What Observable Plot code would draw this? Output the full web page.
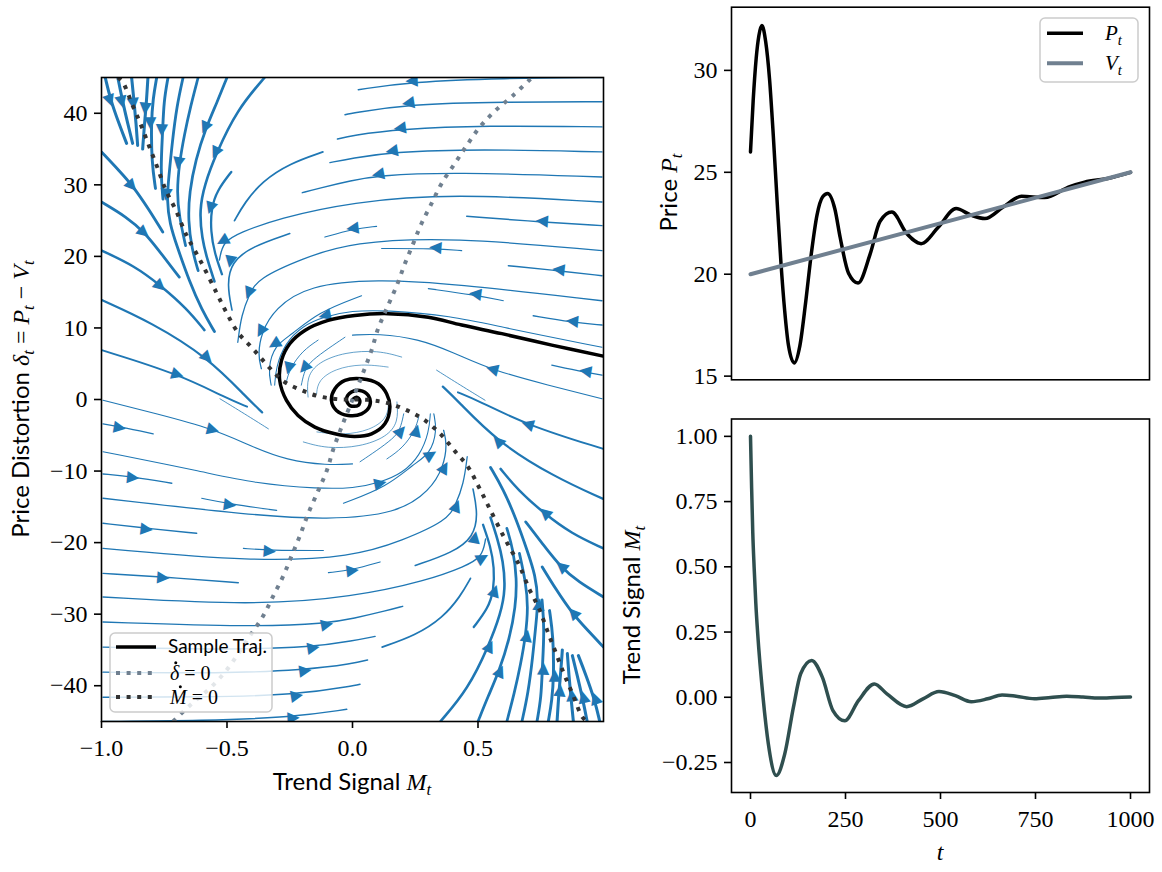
<!DOCTYPE html>
<html>
<head>
<meta charset="utf-8">
<script src="https://cdn.jsdelivr.net/npm/d3@7"></script>
<script src="https://cdn.jsdelivr.net/npm/@observablehq/plot@0.6"></script>
<style>
  body { margin: 0; background: #fff; }
  #wrap { position: relative; width: 1162px; height: 872px; overflow: hidden; background: #fff; }
  #wrap > svg, #wrap > figure { position: absolute; margin: 0; overflow: visible; }
  svg [aria-label$="tick"] path, svg [aria-label$="axis"] .tick line { stroke-width: 1.6px; }
</style>
</head>
<body>
<div id="wrap"></div>
<script>
// ---------------- DATA ----------------
// Right-top panel: price P_t and value V_t over time t
const priceT = [0,7,15,22,30,40,50,60,70,80,90,100,115,130,145,160,175,190,203,222,236,258,283,315,341,372,411,449,494,541,580,617,665,713,774,840,879,940,1000];
const priceP = [26.0,28.5,30.6,31.7,32.2,31.4,29.6,26.8,23.6,20.6,18.2,16.5,15.65,16.5,18.6,21.0,22.9,23.8,23.96,23.2,21.8,20.05,19.57,21.0,22.6,23.05,22.0,21.5,22.3,23.22,22.9,22.73,23.3,23.82,23.76,24.3,24.52,24.7,25.0];
const valueT = [0, 1000];
const valueV = [20, 25];

// Right-bottom panel: trend signal M_t over time t
const trendT = [0,3,6,9.5,14,19,33,47,68,90,113,132,161,189,217,248,284,326,359,411,454,496,539,581,624,662,699,747,790,832,875,917,960,1000];
const trendM = [1.0,0.80,0.63,0.5,0.36,0.243,0.0,-0.179,-0.30,-0.218,-0.038,0.09,0.141,0.077,-0.051,-0.09,-0.013,0.051,0.013,-0.036,-0.006,0.022,0.006,-0.017,-0.006,0.009,0.004,-0.006,-0.001,0.004,0.001,-0.003,-0.001,0.001];

// Tick values
const phaseTicksX = [-1, -0.5, 0, 0.5];
const phaseTicksY = [-40, -30, -20, -10, 0, 10, 20, 30, 40];
const priceTicksY = [15, 20, 25, 30];
const trendTicksY = [-0.25, 0, 0.25, 0.5, 0.75, 1];
const timeTicks = [0, 250, 500, 750, 1000];

// Left panel: sample trajectory (M, delta)
const trajectory = [[0.994,6.1],[0.794,7.6],[0.595,9.2],[0.435,10.4],[0.302,11.5],[0.142,12.0],[0.009,11.75],[-0.097,11.05],[-0.19,9.65],[-0.25,7.79],[-0.283,5.46],[-0.29,2.67],[-0.263,-0.13],[-0.217,-2.23],[-0.15,-3.86],[-0.07,-4.79],[0.009,-5.16],[0.076,-4.79],[0.129,-3.39],[0.149,-1.06],[0.136,0.8],[0.103,2.2],[0.036,2.9],[-0.03,2.67],[-0.07,1.5],[-0.084,-0.13],[-0.064,-1.53],[-0.017,-2.23],[0.036,-2.0],[0.069,-0.83],[0.063,0.57],[0.029,1.27],[-0.004,1.04],[-0.024,0.1],[-0.011,-0.83],[0.023,-0.83],[0.029,-0.13],[0.016,0.33],[0.0,0.0]];

// Nullclines
const mdotNull = [[-0.935,45],[-0.916,44.4],[-0.876,41.1],[-0.842,38.3],[-0.809,35.3],[-0.776,32.3],[-0.743,29.2],[-0.703,26.4],[-0.67,23.6],[-0.65,22.2],[-0.603,19.2],[-0.543,15.0],[-0.503,12.2],[-0.457,9.4],[-0.397,7.1],[-0.34,4.8],[-0.277,2.6],[-0.21,1.4],[-0.14,0.5],[-0.06,0.05],[0.06,-0.05],[0.14,-0.5],[0.21,-1.4],[0.28,-2.7],[0.35,-4.8],[0.405,-7.1],[0.46,-9.4],[0.503,-12.2],[0.543,-15.0],[0.603,-19.2],[0.65,-22.2],[0.67,-23.6],[0.703,-26.4],[0.743,-29.2],[0.776,-32.3],[0.809,-35.3],[0.842,-38.3],[0.876,-41.1],[0.916,-44.4],[0.935,-45]];
const ddotNull = [[-0.715,-45],[-0.64,-42.5],[-0.57,-40.4],[-0.508,-38.1],[-0.455,-35.5],[-0.408,-33.0],[-0.355,-30.2],[-0.315,-27.4],[-0.275,-24.6],[-0.242,-21.8],[-0.209,-19.0],[-0.176,-15.9],[-0.136,-12.7],[-0.102,-9.9],[-0.076,-6.9],[-0.043,-3.8],[0,0],[0.043,3.8],[0.076,6.9],[0.102,9.9],[0.136,12.7],[0.176,15.9],[0.209,19.0],[0.242,21.8],[0.275,24.6],[0.315,27.4],[0.355,30.2],[0.408,33.0],[0.455,35.5],[0.508,38.1],[0.57,40.4],[0.64,42.5],[0.715,45]];

// Streamlines read from the upper half of the phase portrait (s = relative speed, a = arrow location)
// The field is point-symmetric about the origin, so the lower half reuses these read values reflected.
const streamsUpper = [
  {s:0.95, a:[-0.962,41.8], p:[[-0.985,45],[-0.965,42],[-0.93,38.5],[-0.90,35.8]]},
  {s:0.95, a:[-0.916,41.6], p:[[-0.935,45],[-0.918,42],[-0.895,38.5],[-0.876,35.8]]},
  {s:0.95, a:[-0.869,41.3], p:[[-0.88,45],[-0.87,41.5],[-0.862,38.5],[-0.856,35.5]]},
  {s:0.95, a:[-0.822,40.6], p:[[-0.815,45],[-0.822,41],[-0.83,38],[-0.836,35.0]]},
  {s:0.92, a:[-0.802,38.6], p:[[-0.78,45],[-0.795,42],[-0.802,38.6],[-0.80,33.2],[-0.785,29.5]]},
  {s:0.90, a:[-0.756,37.6], p:[[-0.735,45],[-0.752,41.6],[-0.756,37.6],[-0.765,32],[-0.755,28]]},
  {s:0.88, a:[-0.742,28.6], p:[[-0.675,45],[-0.70,41],[-0.718,36],[-0.732,31],[-0.74,28],[-0.728,24.5],[-0.70,21.5],[-0.65,16.5],[-0.60,12.5],[-0.55,9.5]]},
  {s:0.86, a:[-0.69,33], p:[[-0.615,45],[-0.645,41],[-0.67,37],[-0.69,33],[-0.70,29],[-0.69,25.5],[-0.665,21.5]]},
  {s:0.86, a:[-0.585,37.9], p:[[-0.50,45],[-0.54,41.5],[-0.585,37.9],[-0.625,33.5],[-0.65,29],[-0.655,25],[-0.64,21],[-0.615,18]]},
  {s:0.82, a:[-0.543,34.4], p:[[-0.35,45],[-0.46,40.5],[-0.543,34.4],[-0.59,30],[-0.61,26.5],[-0.60,22.5],[-0.578,19.5],[-0.55,16.5]]},
  {s:0.72, a:[-0.563,26.7], p:[[-0.483,31.8],[-0.54,29.2],[-0.563,26.7],[-0.565,23.5],[-0.55,20.5],[-0.52,17.5]]},
  {s:0.55, a:null, p:[[-0.118,34.6],[-0.25,33.0],[-0.36,30.5],[-0.43,27.5],[-0.47,25]]},
  {s:0.45, a:[0.235,44.4], p:[[0.994,45.0],[0.6,44.9],[0.235,44.4],[0.023,43.3]]},
  {s:0.45, a:[0.222,41.3], p:[[0.994,41.6],[0.608,41.6],[0.222,41.3],[-0.004,40.0],[-0.03,39.8]]},
  {s:0.45, a:[0.189,37.8], p:[[0.994,38.1],[0.528,38.3],[0.189,37.8],[-0.004,36.9],[-0.06,36.4]]},
  {s:0.43, a:[0.156,34.6], p:[[0.994,34.6],[0.501,35.0],[0.156,34.6],[-0.004,33.7],[-0.09,33.1]]},
  {s:0.42, a:[0.102,31.3], p:[[0.994,31.1],[0.395,31.8],[0.102,31.3],[-0.004,30.6],[-0.137,29.5],[-0.2,28.9]]},
  {s:0.42, a:[-0.517,22.0], p:[[0.994,27.6],[0.395,28.8],[-0.004,27.6],[-0.297,25.3],[-0.45,23.3],[-0.517,22.0],[-0.53,19.5]]},
  {s:0.45, a:[0.754,24.8], p:[[0.994,24.3],[0.754,24.8],[0.455,25.6]]},
  {s:0.35, a:[0.0,23.8], p:[[0.096,24.2],[0.0,23.8],[-0.11,22.7]]},
  {s:0.50, a:[-0.483,19.2], p:[[-0.25,23.2],[-0.40,21.4],[-0.483,19.2],[-0.50,16],[-0.48,12.5]]},
  {s:0.40, a:[-0.41,14.8], p:[[0.994,20.8],[0.395,22.7],[-0.004,22.0],[-0.2,19.7],[-0.377,16.9],[-0.41,14.8],[-0.443,11.8],[-0.457,8.0]]},
  {s:0.35, a:[0.329,21.1], p:[[0.435,20.8],[0.329,21.1],[0.116,21.1]]},
  {s:0.45, a:[0.82,18.0], p:[[0.994,17.3],[0.82,18.0],[0.621,18.7]]},
  {s:0.40, a:[-0.363,9.4], p:[[0.994,13.8],[0.395,16.2],[0.1,16.8],[-0.177,16.0],[-0.31,12.7],[-0.363,9.4],[-0.377,6.2],[-0.363,4.3]]},
  {s:0.35, a:[0.488,14.6], p:[[0.601,13.8],[0.488,14.6],[0.302,15.5]]},
  {s:0.45, a:[0.874,10.8], p:[[0.994,10.4],[0.874,10.8],[0.72,11.7]]},
  {s:0.35, a:[-0.31,7.6], p:[[0.036,14.5],[-0.137,12.2],[-0.244,9.0],[-0.31,7.6],[-0.337,4.3],[-0.324,2.0]]},
  {s:0.32, a:[-0.11,11.6], p:[[0.994,7.3],[0.595,10.1],[0.395,11.7],[0.129,12.5],[-0.004,12.4],[-0.11,11.6],[-0.2,10.3],[-0.27,7.8],[-0.305,4.5],[-0.31,2.0]]},
  {s:0.35, a:[0.555,4.1], p:[[0.994,0.1],[0.78,2.0],[0.555,4.1],[0.40,6.6],[0.262,8.5],[0.1,9.2],[0.0,9.0]]},
  {s:0.28, a:[-0.19,4.3], p:[[-0.03,8.7],[-0.098,7.1],[-0.16,5.5],[-0.19,4.3],[-0.204,2.0]]},
  {s:0.28, a:[-0.25,4.3], p:[[-0.137,8.3],[-0.2,6.8],[-0.25,4.3],[-0.264,2.4]]},
  {s:0.40, a:[0.927,3.8], p:[[0.994,3.4],[0.927,3.8],[0.794,4.8]]},
  {s:0.25, a:null, p:[[0.528,-0.1],[0.43,2.0],[0.335,4.1]]},
  {s:0.90, a:[-0.876,29.9], p:[[-1.0,34.6],[-0.93,32],[-0.876,29.9],[-0.81,26.5],[-0.756,23.4]]},
  {s:0.85, a:[-0.829,23.4], p:[[-1.0,27.6],[-0.90,25.5],[-0.829,23.4],[-0.76,20.3],[-0.69,17.1]]},
  {s:0.78, a:[-0.763,15.9], p:[[-0.999,20.8],[-0.87,18.7],[-0.763,15.9],[-0.66,12.7],[-0.59,9.7]]},
  {s:0.70, a:[-0.576,5.9], p:[[-0.999,13.9],[-0.803,10.8],[-0.576,5.9],[-0.417,0.1],[-0.36,-1.8]]},
  {s:0.60, a:[-0.696,3.6], p:[[-0.999,6.9],[-0.696,3.6],[-0.497,0.1],[-0.42,-1.0]]},
  {s:0.22, a:null, p:[[0.196,5.93],[0.103,6.86],[-0.03,6.63],[-0.137,5.23],[-0.183,3.13],[-0.177,0.34]]},
  {s:0.20, a:null, p:[[0.142,4.53],[0.036,5.0],[-0.07,4.3],[-0.137,2.67],[-0.143,0.8]]}
];

// ---------------- STYLE ----------------
const SERIF = "'Liberation Serif','DejaVu Serif',serif";
const SANS = "Lato,'Open Sans','DejaVu Sans',sans-serif";
const BLUE = "#1f77b4", SLATE = "#708090", DARK = "#333333", MCOL = "#2f4f4f";
const FS = 24;

const wrap = document.getElementById("wrap");
function place(el, left, top) {
  el.style.position = "absolute";
  el.style.left = left + "px";
  el.style.top = top + "px";
  wrap.appendChild(el);
  return el.tagName.toLowerCase() === "svg" ? el : el.querySelector("svg");
}
// Rich text: parts = [[string, kind]], kind in sans | rm | it | sub ; dots = char indices that get a dot accent
function rich(svg, x, y, rot, size, parts, anchor = "middle", dots = []) {
  const g = d3.select(svg).append("g").attr("transform", `translate(${x},${y}) rotate(${rot})`);
  const t = g.append("text")
    .attr("text-anchor", anchor).attr("font-size", size).attr("fill", "black")
    .style("white-space", "pre");
  let sh = 0;
  for (const [str, kind] of parts) {
    const sp = t.append("tspan").text(str);
    sp.attr("font-family", kind === "sans" ? SANS : SERIF);
    if (kind === "it" || kind === "sub") sp.attr("font-style", "italic");
    let target = 0;
    if (kind === "sub") { sp.attr("font-size", size * 0.7); target = size * 0.22; }
    if (target !== sh) { sp.attr("dy", target - sh); sh = target; }
  }
  for (const i of dots) {
    try {
      const ext = t.node().getExtentOfChar(i);
      g.append("circle").attr("cx", ext.x + ext.width * 0.62).attr("cy", -0.86 * size)
        .attr("r", size * 0.075).attr("fill", "black");
    } catch (e) {}
  }
  return t;
}
function legendBox(svg, x, y, w, h) {
  d3.select(svg).append("rect").attr("x", x).attr("y", y).attr("width", w).attr("height", h)
    .attr("rx", 5).attr("fill", "white").attr("fill-opacity", 0.8)
    .attr("stroke", "#cccccc").attr("stroke-width", 1.5);
}
function legendLine(svg, x1, x2, y, stroke, width, dash) {
  const l = d3.select(svg).append("line").attr("x1", x1).attr("x2", x2).attr("y1", y).attr("y2", y)
    .attr("stroke", stroke).attr("stroke-width", width);
  if (dash) l.attr("stroke-dasharray", dash).attr("stroke-linecap", "butt");
}

// ---------------- LEFT: phase portrait ----------------
const L = {w: 615, h: 872, ml: 101, mr: 12, mt: 77, mb: 151};
const KX = (L.w - L.ml - L.mr) / 2;      // px per unit of M
const KY = (L.h - L.mt - L.mb) / 90;     // px per unit of delta

const streams = streamsUpper.concat(streamsUpper.map(st => ({
  s: st.s,
  a: st.a ? [-st.a[0], -st.a[1]] : null,
  p: st.p.map(([m, d]) => [-m, -d])
})));

function arrowOf(st) {
  const [ax, ay] = st.a; let best = null;
  for (let i = 0; i < st.p.length - 1; i++) {
    const [x1, y1] = st.p[i], [x2, y2] = st.p[i + 1];
    const X1 = x1 * KX, Y1 = y1 * KY, dx = (x2 - x1) * KX, dy = (y2 - y1) * KY;
    const AX = ax * KX, AY = ay * KY, L2 = dx * dx + dy * dy;
    let t = L2 ? ((AX - X1) * dx + (AY - Y1) * dy) / L2 : 0;
    t = Math.max(0, Math.min(1, t));
    const px = X1 + t * dx, py = Y1 + t * dy, dist = (px - AX) ** 2 + (py - AY) ** 2;
    if (!best || dist < best.dist) best = {dist, m: px / KX, d: py / KY, ang: Math.atan2(-dy, dx) * 180 / Math.PI};
  }
  return best;
}
const arrows = streams.filter(st => st.a).map(arrowOf);

const leftMarks = [];
for (const st of streams) {
  leftMarks.push(Plot.line(st.p, {x: d => d[0], y: d => d[1], stroke: BLUE, strokeWidth: 3.2 * st.s, curve: "basis", clip: true}));
}
leftMarks.push(Plot.text(arrows, {x: "m", y: "d", text: () => "\u25B6", rotate: "ang", fill: BLUE, fontSize: 16, fontFamily: "DejaVu Sans", clip: true}));
leftMarks.push(Plot.line(trajectory, {x: d => d[0], y: d => d[1], stroke: "black", strokeWidth: 3.5, curve: "catmull-rom", clip: true}));
leftMarks.push(Plot.line(ddotNull, {x: d => d[0], y: d => d[1], stroke: SLATE, strokeWidth: 4, strokeDasharray: "4,6.6", strokeLinecap: "butt", curve: "catmull-rom", clip: true}));
leftMarks.push(Plot.line(mdotNull, {x: d => d[0], y: d => d[1], stroke: DARK, strokeWidth: 4, strokeDasharray: "4,6.6", strokeLinecap: "butt", curve: "catmull-rom", clip: true}));
leftMarks.push(Plot.frame({stroke: "black", strokeWidth: 1.6}));

const leftEl = Plot.plot({
  width: L.w, height: L.h,
  marginLeft: L.ml, marginRight: L.mr, marginTop: L.mt, marginBottom: L.mb,
  x: {domain: [-1, 1], ticks: phaseTicksX, tickFormat: d3.format(".1f"), tickSize: 7, tickPadding: 10, label: null},
  y: {domain: [-45, 45], ticks: phaseTicksY, tickFormat: d3.format("d"), tickSize: 7, tickPadding: 7, label: null},
  style: {fontFamily: SERIF, fontSize: FS + "px", background: "transparent", color: "black", overflow: "visible"},
  marks: leftMarks
});
const leftSvg = place(leftEl, 0, 0);
rich(leftSvg, 352, 790, 0, FS, [["Trend Signal ", "sans"], ["M", "it"], ["t", "sub"]]);
rich(leftSvg, 29, 399, -90, FS, [["Price Distortion ", "sans"], ["\u03B4", "it"], ["t", "sub"], [" = ", "rm"], ["P", "it"], ["t", "sub"], [" \u2212 ", "rm"], ["V", "it"], ["t", "sub"]]);
legendBox(leftSvg, 110, 633, 162, 79);
legendLine(leftSvg, 116, 156, 647, "black", 3.5);
legendLine(leftSvg, 116, 156, 673, SLATE, 4, "4,6.6");
legendLine(leftSvg, 116, 156, 697, DARK, 4, "4,6.6");
rich(leftSvg, 168, 653, 0, 19, [["Sample Traj.", "sans"]], "start");
rich(leftSvg, 170, 680, 0, 20, [["\u03B4", "it"], [" = 0", "rm"]], "start", [0]);
rich(leftSvg, 170, 704, 0, 20, [["M", "it"], [" = 0", "rm"]], "start", [0]);

// ---------------- RIGHT TOP: price ----------------
const priceRows = priceT.map((t, i) => ({t, v: priceP[i]}));
const valueRows = valueT.map((t, i) => ({t, v: valueV[i]}));
const topEl = Plot.plot({
  width: 562, height: 400,
  marginLeft: 131, marginRight: 13, marginTop: 6.7, marginBottom: 20.7,
  x: {domain: [-50, 1050], axis: null},
  y: {domain: [14.82, 33.1], ticks: priceTicksY, tickFormat: d3.format("d"), tickSize: 7, tickPadding: 7, label: null},
  style: {fontFamily: SERIF, fontSize: FS + "px", background: "transparent", color: "black", overflow: "visible"},
  marks: [
    Plot.line(priceRows, {x: "t", y: "v", stroke: "black", strokeWidth: 3.5, curve: "monotone-x"}),
    Plot.line(valueRows, {x: "t", y: "v", stroke: SLATE, strokeWidth: 4}),
    Plot.frame({stroke: "black", strokeWidth: 1.6})
  ]
});
const topSvg = place(topEl, 600, 0);
rich(topSvg, 77, 192.5, -90, FS, [["Price ", "sans"], ["P", "it"], ["t", "sub"]]);
legendBox(topSvg, 440, 18, 98, 64);
legendLine(topSvg, 447, 483, 33.3, "black", 3.5);
legendLine(topSvg, 447, 483, 63.3, SLATE, 4);
rich(topSvg, 505, 40, 0, 21, [["P", "it"], ["t", "sub"]], "start");
rich(topSvg, 505, 70, 0, 21, [["V", "it"], ["t", "sub"]], "start");

// ---------------- RIGHT BOTTOM: trend ----------------
const trendRows = trendT.map((t, i) => ({t, m: trendM[i]}));
const botEl = Plot.plot({
  width: 562, height: 472,
  marginLeft: 131, marginRight: 13, marginTop: 18.5, marginBottom: 80,
  x: {domain: [-50, 1050], ticks: timeTicks, tickFormat: d3.format("d"), tickSize: 7, tickPadding: 10, label: null},
  y: {domain: [-0.365, 1.0665], ticks: trendTicksY, tickFormat: d3.format(".2f"), tickSize: 7, tickPadding: 7, label: null},
  style: {fontFamily: SERIF, fontSize: FS + "px", background: "transparent", color: "black", overflow: "visible"},
  marks: [
    Plot.line(trendRows, {x: "t", y: "m", stroke: MCOL, strokeWidth: 3.5, curve: "monotone-x"}),
    Plot.frame({stroke: "black", strokeWidth: 1.6})
  ]
});
const botSvg = place(botEl, 600, 400);
rich(botSvg, 40, 205, -90, FS, [["Trend Signal ", "sans"], ["M", "it"], ["t", "sub"]]);
rich(botSvg, 340, 460, 0, FS, [["t", "it"]]);
</script>
</body>
</html>
